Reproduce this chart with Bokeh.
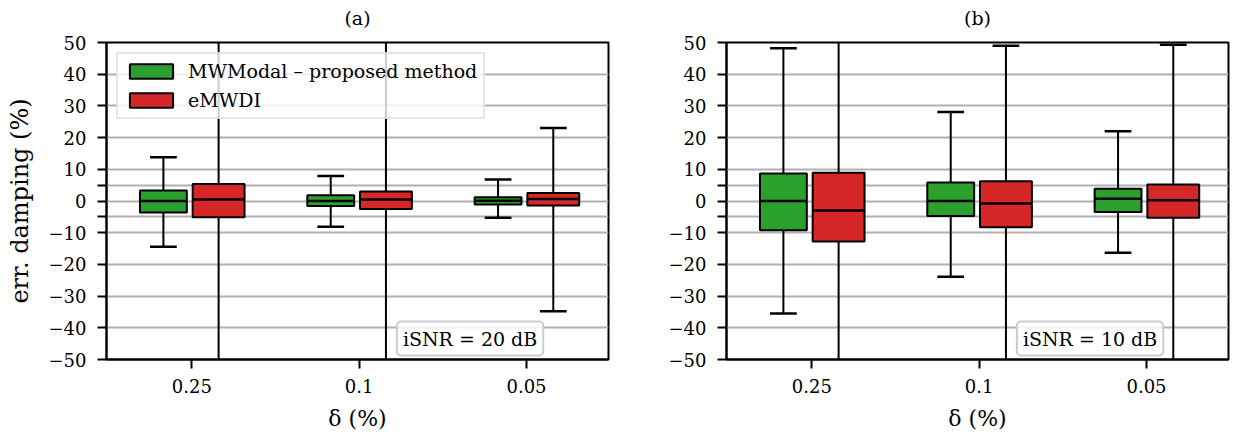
from bokeh.plotting import figure
from bokeh.layouts import row
from bokeh.models import Range1d, FixedTicker, Legend, LegendItem, Label, LinearAxis
from bokeh.embed import file_html
from bokeh.resources import INLINE
import numpy as np

# damping parameter levels on the x axis
deltas = ["0.25", "0.1", "0.05"]

# iSNR = 20 dB : box statistics (whisker low, q1, median, q3, whisker high), in %
mw20_lo = [-14.4, -8.1, -5.3]
mw20_q1 = [-3.6, -1.6, -1.1]
mw20_med = [0.0, 0.0, 0.1]
mw20_q3 = [3.3, 1.8, 1.2]
mw20_hi = [13.8, 7.9, 6.8]

em20_lo = [-75.0, -70.0, -34.8]
em20_q1 = [-5.1, -2.5, -1.4]
em20_med = [0.5, 0.5, 0.6]
em20_q3 = [5.4, 3.0, 2.5]
em20_hi = [70.0, 65.0, 23.0]

# iSNR = 10 dB
mw10_lo = [-35.5, -23.9, -16.3]
mw10_q1 = [-9.2, -4.7, -3.5]
mw10_med = [0.0, 0.0, 0.7]
mw10_q3 = [8.7, 5.8, 3.9]
mw10_hi = [48.2, 28.1, 22.0]

em10_lo = [-90.0, -75.0, -70.0]
em10_q1 = [-12.8, -8.3, -5.3]
em10_med = [-3.0, -0.8, 0.2]
em10_q3 = [8.9, 6.2, 5.2]
em10_hi = [85.0, 49.0, 49.3]

y_ticks = [-50, -40, -30, -20, -10, -5, 0, 5, 10, 20, 30, 40, 50]

GREEN = "#2ca02c"
RED = "#d62728"
FONT = "DejaVu Serif"


def draw_boxes(p, centers, width, lo, q1, med, q3, hi, color):
    centers = np.asarray(centers)
    cap = 0.08
    # whiskers and caps
    p.segment(x0=centers, y0=lo, x1=centers, y1=q1, line_color="black", line_width=2)
    p.segment(x0=centers, y0=q3, x1=centers, y1=hi, line_color="black", line_width=2)
    p.segment(x0=centers - cap, y0=lo, x1=centers + cap, y1=lo, line_color="black", line_width=2.5)
    p.segment(x0=centers - cap, y0=hi, x1=centers + cap, y1=hi, line_color="black", line_width=2.5)
    box = p.quad(left=centers - width / 2, right=centers + width / 2, bottom=q1, top=q3,
                 fill_color=color, line_color="black", line_width=2)
    p.segment(x0=centers - width / 2, y0=med, x1=centers + width / 2, y1=med,
              line_color="black", line_width=2.5)
    return box


def make_panel(title, mw, em, snr_text, ylabel, legend, width, border_right):
    p = figure(width=width, height=435, x_range=Range1d(0.49, 3.49), y_range=Range1d(-50, 50),
               output_backend="svg", toolbar_location=None,
               min_border_left=106, min_border_right=border_right,
               min_border_top=42, min_border_bottom=76)
    p.background_fill_color = "white"
    p.border_fill_color = "white"
    p.outline_line_color = "black"
    p.outline_line_width = 2

    xax = p.below[0]
    yax = p.left[0]

    # panel caption: a bare axis above the frame carrying only its label
    cap_axis = LinearAxis(ticker=FixedTicker(ticks=[]), axis_label=title,
                          axis_line_color=None, major_tick_line_color=None,
                          minor_tick_line_color=None, major_label_text_font_size="0px",
                          major_tick_out=0, major_tick_in=0, major_label_standoff=0,
                          axis_label_standoff=14,
                          axis_label_text_font=FONT, axis_label_text_font_size="19px",
                          axis_label_text_font_style="normal", axis_label_text_color="black")
    p.add_layout(cap_axis, "above")

    pos = np.arange(1, len(deltas) + 1)

    p.xgrid.visible = False
    p.ygrid.grid_line_color = "#b0b0b0"
    p.ygrid.grid_line_width = 2

    xax.ticker = FixedTicker(ticks=list(pos))
    xax.major_label_overrides = {int(k): d for k, d in zip(pos, deltas)}
    yax.ticker = FixedTicker(ticks=y_ticks)
    yax.major_label_overrides = {t: ("" if abs(t) == 5 else str(t).replace("-", "\u2212"))
                                 for t in y_ticks}
    for ax in (xax, yax):
        ax.axis_line_color = "black"
        ax.axis_line_width = 2
        ax.major_tick_line_color = "black"
        ax.major_tick_line_width = 2
        ax.major_tick_out = 9
        ax.major_tick_in = 0
        ax.minor_tick_line_color = None
        ax.major_label_text_font = FONT
        ax.major_label_text_font_size = "18px"
        ax.major_label_text_color = "black"
        ax.axis_label_text_font = FONT
        ax.axis_label_text_font_size = "22px"
        ax.axis_label_text_font_style = "normal"
        ax.axis_label_text_color = "black"
    xax.major_label_standoff = 10
    xax.axis_label = "\u03b4 (%)"
    xax.axis_label_standoff = 10
    yax.major_label_standoff = 11
    if ylabel:
        yax.axis_label = ylabel
        yax.axis_label_text_font_size = "24px"
        yax.axis_label_standoff = 12

    g = draw_boxes(p, pos - 0.17, 0.28, *mw, GREEN)
    r = draw_boxes(p, pos + 0.16, 0.31, *em, RED)

    if legend:
        leg = Legend(items=[LegendItem(label="MWModal \u2013 proposed method", renderers=[g]),
                            LegendItem(label="eMWDI", renderers=[r])],
                     location="top_left")
        leg.margin = 10
        leg.padding = 6
        leg.spacing = 7
        leg.glyph_width = 54
        leg.glyph_height = 18
        leg.label_height = 22
        leg.label_standoff = 10
        leg.label_text_font = FONT
        leg.label_text_font_size = "19px"
        leg.label_text_color = "black"
        leg.background_fill_color = "white"
        leg.background_fill_alpha = 0.8
        leg.border_line_color = "#cccccc"
        leg.border_line_width = 2
        p.add_layout(leg)

    lab = Label(x=3.10, y=-43.4, text=snr_text, text_align="right", text_baseline="middle",
                text_font=FONT, text_font_size="19px", text_color="black",
                background_fill_color="white", background_fill_alpha=0.8,
                border_line_color="#cccccc", border_line_width=2,
                padding=6, border_radius=4)
    p.add_layout(lab)
    return p


pa = make_panel("(a)", (mw20_lo, mw20_q1, mw20_med, mw20_q3, mw20_hi),
                (em20_lo, em20_q1, em20_med, em20_q3, em20_hi),
                "iSNR = 20 dB", "err. damping (%)", True, 620, 12)
pb = make_panel("(b)", (mw10_lo, mw10_q1, mw10_med, mw10_q3, mw10_hi),
                (em10_lo, em10_q1, em10_med, em10_q3, em10_hi),
                "iSNR = 10 dB", None, False, 613, 5)

layout = row(pa, pb)
open("out.html", "w").write(file_html(layout, INLINE))
